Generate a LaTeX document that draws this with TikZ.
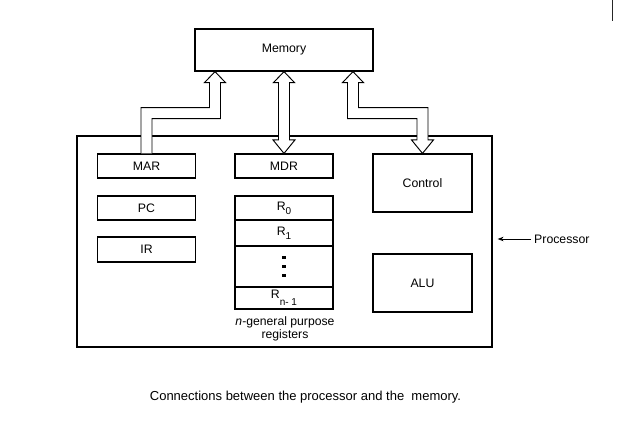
\documentclass[tikz,border=0pt]{standalone}
\usepackage{fontspec}
\setmainfont{Liberation Sans}
\usetikzlibrary{calc,arrows.meta}
\begin{document}
\begin{tikzpicture}[x=1pt,y=-1pt,
  box/.style={draw,line width=1.2pt,rectangle,inner sep=0pt,font=\fontsize{12.3}{14}\selectfont},
  lbl/.style={inner sep=0pt,font=\fontsize{12.3}{14}\selectfont},
  bus/.style={line width=0.95pt,black,line join=miter,fill=white}]
\useasboundingbox (0,0) rectangle (625,424);
\def\w{5.5pt}\def\hw{10.5pt}\def\hh{11pt}\def\bw{11pt}\def\bh{13.5pt}
% stray mark
\draw[line width=0.9pt,black!85] (612,0) -- (612,21);
% nodes
\node[box,minimum width=178pt,minimum height=42pt] (Memory) at (284,50) {Memory};
\node[box,minimum width=415pt,minimum height=211pt] (Proc) at (284.5,241.5) {};
\node[box,minimum width=98pt,minimum height=24pt] (MAR) at (146.5,166) {MAR};
\node[box,minimum width=98pt,minimum height=24pt] (PC) at (146.5,208) {PC};
\node[box,minimum width=98pt,minimum height=25pt] (IR) at (146.5,249.5) {IR};
\node[box,minimum width=98pt,minimum height=24pt] (MDR) at (284,166) {MDR};
\node[box,minimum width=98pt,minimum height=24pt] (R0) at (284,208) {R\raisebox{-4pt}{\fontsize{10}{10}\selectfont 0}};
\node[box,minimum width=98pt,minimum height=26pt] (R1) at (284,233) {R\raisebox{-4pt}{\fontsize{10}{10}\selectfont 1}};
\node[box,minimum width=98pt,minimum height=41pt] (Rd) at (284,266.5) {};
\node[box,minimum width=98pt,minimum height=22pt] (Rn) at (284,298) {\raisebox{2.5pt}{R\raisebox{-7pt}{\fontsize{10}{10}\selectfont n- 1}}};
\draw[line width=1.2pt] (Rn.south west) -- (Rn.south east);
\node[box,minimum width=99pt,minimum height=58pt] (Control) at (422.5,183) {Control};
\node[box,minimum width=99pt,minimum height=58pt] (ALU) at (422.5,283) {ALU};
% dots
\foreach \yy in {-9,0,9} \fill ($(Rd.center)+(-1.7,\yy-1.7)$) rectangle ++(3.4,3.4);
% register caption
\node[lbl,align=center,font=\fontsize{12.2}{10}\selectfont] (gp) at (285,329) {\textit{n}-general purpose\\registers};
% processor label
\node[lbl,anchor=west] (plabel) at (534,239) {Processor};
\coordinate (ptip) at ($(Proc.east)+(5,-2.5)$);
\draw[line width=0.9pt,-{Stealth[length=6pt,width=4.5pt]}] ($(plabel.west)+(-3,0)$) -- (ptip);
% caption
\node[lbl,font=\fontsize{13}{15}\selectfont] (cap) at (305.5,397) {Connections between the processor and the\ \ memory.};
% bus 1: MAR -> Memory
\coordinate (t1) at ($(Memory.south)+(-69,0)$);
\draw[bus] let \p1=(MAR.north), \p2=(t1), \n3={\y2-41.5pt} in
  ({\x1-\w},{\y1}) -- ({\x1-\w},{\n3+\w}) -- ({\x2-\w},{\n3+\w}) -- ({\x2-\w},{\y2-\hh})
  -- ({\x2-\hw},{\y2-\hh}) -- (\p2) -- ({\x2+\hw},{\y2-\hh}) -- ({\x2+\w},{\y2-\hh})
  -- ({\x2+\w},{\n3-\w}) -- ({\x1+\w},{\n3-\w}) -- ({\x1+\w},{\y1});
% bus 2: Memory <-> MDR
\draw[bus] let \p1=(Memory.south), \p2=(MDR.north) in
  ({\x1-\w},{\y1-\hh}) -- ({\x1-\w},{\y2+\bh}) -- ({\x1-\bw},{\y2+\bh}) -- (\p2)
  -- ({\x1+\bw},{\y2+\bh}) -- ({\x1+\w},{\y2+\bh}) -- ({\x1+\w},{\y1-\hh})
  -- ({\x1+\hw},{\y1-\hh}) -- (\p1) -- ({\x1-\hw},{\y1-\hh}) -- cycle;
% bus 3: Memory <-> Control
\coordinate (t3) at ($(Memory.south)+(69,0)$);
\draw[bus] let \p1=(t3), \p2=(Control.north), \n3={\y1-41.5pt} in
  ({\x1-\w},{\y1-\hh}) -- ({\x1-\w},{\n3-\w}) -- ({\x2-\w},{\n3-\w}) -- ({\x2-\w},{\y2+\bh})
  -- ({\x2-\bw},{\y2+\bh}) -- (\p2) -- ({\x2+\bw},{\y2+\bh}) -- ({\x2+\w},{\y2+\bh})
  -- ({\x2+\w},{\n3+\w}) -- ({\x1+\w},{\n3+\w}) -- ({\x1+\w},{\y1-\hh})
  -- ({\x1+\hw},{\y1-\hh}) -- (\p1) -- ({\x1-\hw},{\y1-\hh}) -- cycle;
\end{tikzpicture}
\end{document}
